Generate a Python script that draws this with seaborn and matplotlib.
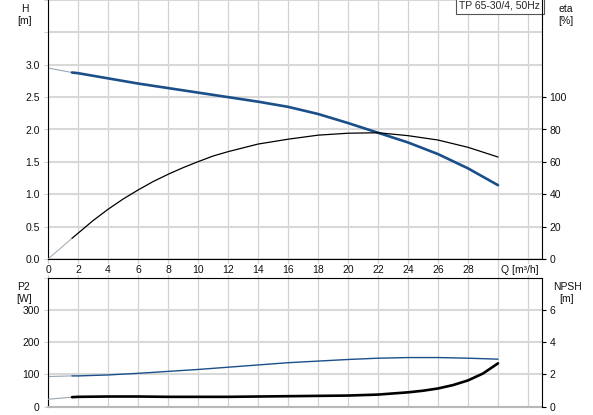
import numpy as np
import seaborn as sns
import matplotlib.pyplot as plt
from matplotlib.transforms import blended_transform_factory

# flow rate points [m3/h]
q = [0, 1.6, 2, 4, 6, 8, 10, 12, 14, 16, 18, 20, 22, 24, 26, 28, 30]
head = [2.95, 2.88, 2.87, 2.79, 2.71, 2.64, 2.57, 2.50, 2.43, 2.35, 2.24, 2.10, 1.95, 1.80, 1.62, 1.40, 1.14]
p2 = [93, 95, 95, 98, 103, 109, 115, 122, 129, 136, 141, 146, 150, 152, 152, 150, 147]

q_eta = [0, 1.6, 2, 3, 4, 5, 6, 7, 8, 9, 10, 11, 12, 14, 16, 18, 20, 22, 24, 26, 28, 30]
eta = [0, 12.8, 15.9, 23.7, 30.7, 37, 42.6, 47.8, 52.3, 56.4, 60.1, 63.6, 66.3, 71, 74, 76.5,
       77.7, 78, 76.2, 73.5, 69, 63]

q_npsh = [0, 1.6, 2, 4, 6, 8, 10, 12, 14, 16, 18, 20, 22, 24, 25, 26, 27, 28, 29, 30]
npsh = [0.45, 0.58, 0.6, 0.62, 0.62, 0.6, 0.6, 0.6, 0.62, 0.64, 0.66, 0.68, 0.74, 0.88, 0.98, 1.12, 1.33, 1.62, 2.05, 2.68]

q_grid = list(range(0, 33, 2))
q_labels = [str(v) if v <= 28 else '' for v in q_grid]
title = 'TP 65-30/4, 50Hz'

BLUE = '#1b4f8a'
GRID = '#d2d2d2'
START = '#9aa6b4'

sns.set_style("white")
plt.rcParams['font.family'] = ['Liberation Sans', 'DejaVu Sans']
plt.rcParams['font.size'] = 7.5

W, H = 593, 415
fig = plt.figure(figsize=(W / 100, H / 100), dpi=100)
ax1 = fig.add_axes([48 / W, 1 - 259 / H, 494 / W, 259 / H])
ax2 = ax1.twinx()
ax3 = fig.add_axes([48 / W, 1 - 406.5 / H, 494 / W, 128.8 / H])
ax4 = ax3.twinx()

# top: head and efficiency
sns.lineplot(x=q[:2], y=head[:2], ax=ax1, color=START, lw=0.8)
sns.lineplot(x=q[1:], y=head[1:], ax=ax1, color=BLUE, lw=1.9)
sns.lineplot(x=q_eta[:2], y=eta[:2], ax=ax2, color=START, lw=0.7)
sns.lineplot(x=q_eta[1:], y=eta[1:], ax=ax2, color='black', lw=0.9)

# bottom: power and NPSH
sns.lineplot(x=q[:2], y=p2[:2], ax=ax3, color=START, lw=0.8)
sns.lineplot(x=q[1:], y=p2[1:], ax=ax3, color=BLUE, lw=1.0)
sns.lineplot(x=q_npsh[:2], y=npsh[:2], ax=ax4, color=START, lw=0.8)
sns.lineplot(x=q_npsh[1:], y=npsh[1:], ax=ax4, color='black', lw=1.9)

for ax in (ax1, ax3):
    ax.set_xlim(0, 494 / 15)
    ax.set_xticks(q_grid)
    ax.grid(axis='x', color=GRID, lw=0.9)
    ax.grid(axis='y', color='#d8d8d8', lw=1.5)
    ax.set_axisbelow(True)
    ax.tick_params(axis='y', length=3, color=GRID, pad=3, labelcolor='#111111')
    ax.spines['left'].set_color('black')
    ax.spines['right'].set_visible(False)

for ax in (ax2, ax4):
    ax.grid(False)
    for s in ('left', 'top', 'bottom'):
        ax.spines[s].set_visible(False)
    ax.spines['right'].set_color('black')
    ax.tick_params(axis='y', length=3, color='black', pad=2.5, labelcolor='#111111')

ax1.set_ylim(0, 4)
ax1.set_yticks(np.arange(0, 4.01, 0.5))
ax1.set_yticklabels([f'{v:.1f}' if v <= 3 else '' for v in np.arange(0, 4.01, 0.5)])
ax1.spines['top'].set_visible(False)
ax1.spines['bottom'].set_color('black')
ax1.tick_params(axis='x', length=0, pad=4, labelcolor='#111111')
labs = ax1.set_xticklabels(q_labels)
for lab in labs:
    lab.set_bbox(dict(fc='white', ec='none', pad=0.6))

ax2.set_ylim(0, 160)
ax2.set_yticks(range(0, 101, 20))

ax3.set_ylim(0, 400)
ax3.set_yticks([0, 100, 200, 300, 400])
ax3.set_yticklabels(['0', '100', '200', '300', ''])
ax3.tick_params(axis='x', length=0, labelbottom=False)
ax3.spines['top'].set_color('black')
ax3.spines['bottom'].set_color('#b8b8b8')
ax3.spines['bottom'].set_linewidth(1.5)

ax4.set_ylim(0, 8)
ax4.set_yticks([0, 2, 4, 6])

for ax in (ax1, ax2, ax3, ax4):
    ax.set_xlabel('')
    ax.set_ylabel('')

# grid lines running through the gap between the two panels
gap = (277.7 - 259) / 259
tr = blended_transform_factory(ax1.transData, ax1.transAxes)
for v in q_grid:
    ax1.plot([v, v], [-gap, 0], transform=tr, color=GRID, lw=0.9, clip_on=False, zorder=0.1)

ax1.text(30.2, -10.5 / 259, 'Q [m³/h]', transform=tr, ha='left', va='center', color='#111111',
         bbox=dict(fc='white', ec='none', pad=0.6))

ax1.text(0.996, 0.998, title, transform=ax1.transAxes, ha='right', va='top', fontsize=7.5,
         bbox=dict(boxstyle='square,pad=0.35', fc='white', ec='#555555', lw=0.8), zorder=5)

fig.text(25 / W, 1 - 4 / H, 'H\n[m]', ha='center', va='top', color='#111111')
fig.text(566 / W, 1 - 4 / H, 'eta\n[%]', ha='center', va='top', color='#111111')
fig.text(24 / W, 1 - 282 / H, 'P2\n[W]', ha='center', va='top', color='#111111')
fig.text(567 / W, 1 - 282 / H, 'NPSH\n[m]', ha='center', va='top', color='#111111')

fig.savefig('out.png', dpi=100)
